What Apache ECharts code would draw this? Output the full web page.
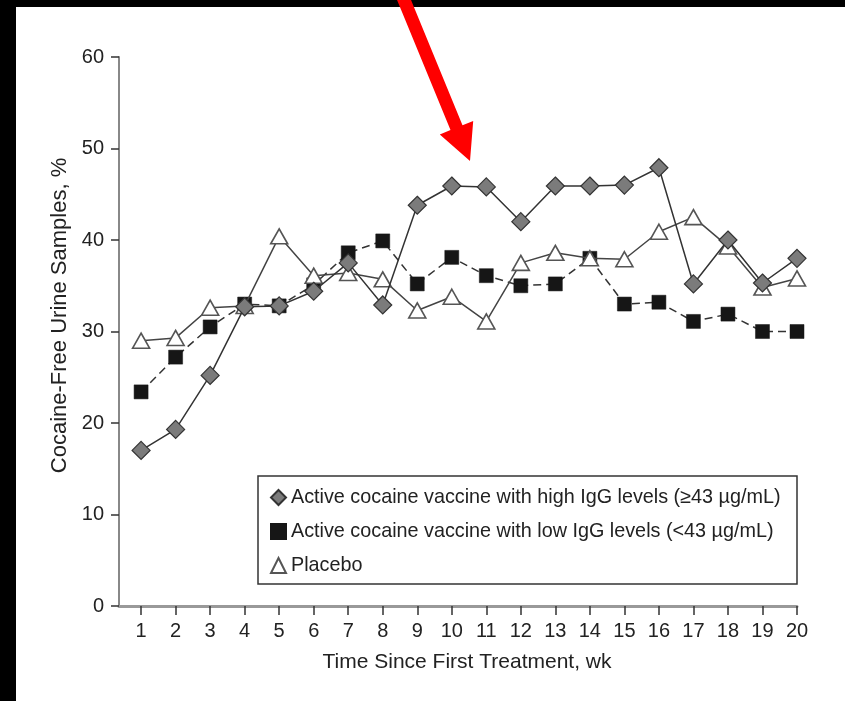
<!DOCTYPE html>
<html>
<head>
<meta charset="utf-8">
<script src="https://cdn.jsdelivr.net/npm/echarts@6/dist/echarts.min.js"></script>
<style>
  html, body { margin: 0; padding: 0; background: #fff; }
  #chart { width: 845px; height: 701px; }
</style>
</head>
<body>
<div id="chart"></div>
<script>
// Weeks since first treatment
const weeks = [1,2,3,4,5,6,7,8,9,10,11,12,13,14,15,16,17,18,19,20];

// Percentage of cocaine-free urine samples per week
const highIgG = [17.0,19.3,25.2,32.7,32.8,34.4,37.5,32.9,43.8,45.9,45.8,42.0,45.9,45.9,46.0,47.9,35.2,40.0,35.3,38.0];
const lowIgG  = [23.4,27.2,30.5,33.0,32.8,35.1,38.6,39.9,35.2,38.1,36.1,35.0,35.2,38.0,33.0,33.2,31.1,31.9,30.0,30.0];
const placebo = [29.0,29.3,32.6,32.8,40.4,36.1,36.4,35.7,32.3,33.8,31.1,37.5,38.6,38.0,37.9,40.9,42.5,39.3,34.8,35.8];

const seriesNames = [
  'Active cocaine vaccine with high IgG levels (\u226543 \u00b5g/mL)',
  'Active cocaine vaccine with low IgG levels (<43 \u00b5g/mL)',
  'Placebo'
];

const yTicks = [0,10,20,30,40,50,60];

const FONT = "'Liberation Sans', Arial, sans-serif";
const TXT = '#222';

const pairs = arr => weeks.map((w, i) => [w, arr[i]]);

const chart = echarts.init(document.getElementById('chart'), null, { renderer: 'canvas' });

chart.setOption({
  backgroundColor: '#fff',
  animation: false,
  grid: { left: 119, top: 57, right: 48, bottom: 95, containLabel: false },
  xAxis: {
    type: 'value',
    min: 0.36,
    max: 20,
    name: 'Time Since First Treatment, wk',
    nameLocation: 'middle',
    nameGap: 46,
    nameTextStyle: { fontFamily: FONT, fontSize: 21, color: TXT, padding: [0, 0, 0, 18] },
    axisLine: { show: true, onZero: false, lineStyle: { color: '#999', width: 3 } },
    axisTick: { show: true, length: 9, customValues: weeks, lineStyle: { color: '#333', width: 1.5 } },
    axisLabel: { customValues: weeks, margin: 15, fontFamily: FONT, fontSize: 20, color: TXT },
    splitLine: { show: false }
  },
  yAxis: {
    type: 'value',
    min: 0,
    max: 60,
    interval: 10,
    name: 'Cocaine-Free Urine Samples, %',
    nameLocation: 'middle',
    nameGap: 45,
    nameTextStyle: { fontFamily: FONT, fontSize: 22, color: TXT, padding: [0, 0, 0, 32] },
    axisLine: { show: true, lineStyle: { color: '#888', width: 2 } },
    axisTick: { show: true, length: 8, lineStyle: { color: '#333', width: 1.5 } },
    axisLabel: { margin: 15, fontFamily: FONT, fontSize: 20, color: TXT, customValues: yTicks },
    splitLine: { show: false }
  },
  legend: {
    orient: 'vertical',
    left: 270,
    top: 487,
    padding: 0,
    itemWidth: 15,
    itemHeight: 15,
    itemGap: 13,
    textStyle: { fontFamily: FONT, fontSize: 19.8, color: TXT, lineHeight: 21 },
    data: [
      { name: seriesNames[0], icon: 'diamond' },
      { name: seriesNames[1], icon: 'rect' },
      { name: seriesNames[2], icon: 'triangle' }
    ]
  },
  series: [
    {
      name: seriesNames[0],
      type: 'line',
      data: pairs(highIgG),
      z: 4,
      symbol: 'diamond',
      symbolSize: 18,
      itemStyle: { color: '#7b7b7b', borderColor: '#333', borderWidth: 1.2 },
      lineStyle: { color: '#333', width: 1.5 }
    },
    {
      name: seriesNames[1],
      type: 'line',
      data: pairs(lowIgG),
      z: 2,
      symbol: 'rect',
      symbolSize: 14,
      itemStyle: { color: '#161616', borderColor: '#161616', borderWidth: 0.5 },
      lineStyle: { color: '#333', width: 1.5, type: [8, 5] }
    },
    {
      name: seriesNames[2],
      type: 'line',
      data: pairs(placebo),
      z: 3,
      symbol: 'triangle',
      symbolSize: [17, 15],
      itemStyle: { color: '#fff', borderColor: '#555', borderWidth: 1.6 },
      lineStyle: { color: '#444', width: 1.5 }
    }
  ],
  graphic: [
    // legend frame
    { type: 'rect', z: 1, shape: { x: 258, y: 476, width: 539, height: 108 },
      style: { fill: 'none', stroke: '#333', lineWidth: 1.5 } },
    // black margins
    { type: 'rect', z: 10, shape: { x: 0, y: 0, width: 845, height: 7 }, style: { fill: '#000' } },
    { type: 'rect', z: 10, shape: { x: 0, y: 0, width: 16, height: 701 }, style: { fill: '#000' } },
    // red pointer arrow
    { type: 'polygon', z: 11,
      shape: { points: [[396,-2.6],[408,-7.4],[462.5,125.3],[473.2,120.9],[470,161],[439.8,134.5],[450.5,130.1]] },
      style: { fill: '#f00' } }
  ]
});
</script>
</body>
</html>
